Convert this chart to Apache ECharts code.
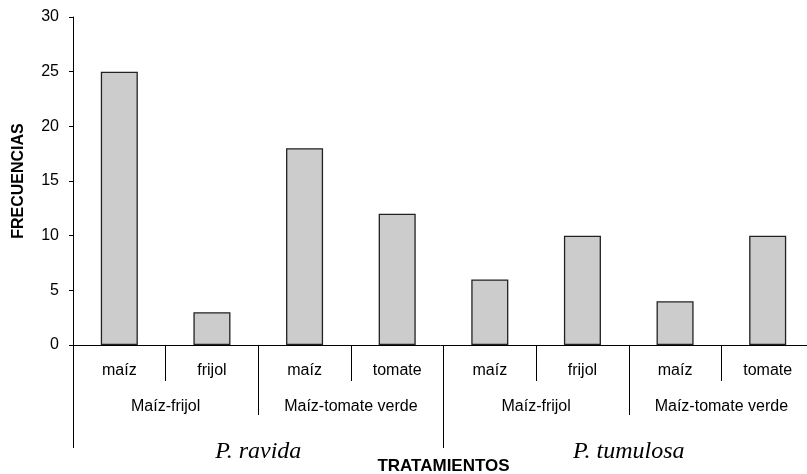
<!DOCTYPE html>
<html><head><meta charset="utf-8">
<script src="https://cdn.jsdelivr.net/npm/echarts@6/dist/echarts.min.js"></script>
<style>html,body{margin:0;padding:0;background:#fff}#c{width:807px;height:474px}</style>
</head><body><div id="c"></div>
<script>
const cultivos = ['maíz','frijol','maíz','tomate','maíz','frijol','maíz','tomate'];
const sistemas = ['Maíz-frijol','Maíz-tomate verde','Maíz-frijol','Maíz-tomate verde'];
const especies = ['P. ravida','P. tumulosa'];
const frecuencias = [25, 3, 18, 12, 6, 10, 4, 10];
const yTicks = {min:0, max:30, interval:5};

const chart = echarts.init(document.getElementById('c'), null, {renderer:'canvas'});
const font = 'Liberation Sans, Arial, sans-serif';
chart.setOption({
  animation:false,
  backgroundColor:'#fff',
  grid:{left:73, top:17, bottom:129, right:-7, containLabel:false, outerBoundsMode:'none'},
  xAxis:[
    {type:'category', data:cultivos, position:'bottom',
     axisLine:{show:true, lineStyle:{color:'#000', width:1}},
     axisTick:{show:true, length:36, interval:0, lineStyle:{color:'#000'}},
     axisLabel:{interval:0, margin:18, fontSize:16, color:'#000', fontFamily:font}},
    {type:'category', data:sistemas, position:'bottom',
     axisLine:{show:false},
     axisTick:{show:true, length:70, interval:0, lineStyle:{color:'#000'}},
     axisLabel:{interval:0, margin:54, fontSize:16, color:'#000', fontFamily:font}},
    {type:'category', data:especies, position:'bottom',
     axisLine:{show:false},
     axisTick:{show:true, length:103, interval:0, lineStyle:{color:'#000'}},
     axisLabel:{interval:0, margin:95, fontSize:24, fontStyle:'italic', color:'#000', fontFamily:'Liberation Serif, Times New Roman, serif'},
     name:'TRATAMIENTOS', nameLocation:'middle', nameGap:113, nameMoveOverlap:false,
     nameTextStyle:{fontSize:17, fontWeight:'bold', color:'#000', fontFamily:font}}
  ],
  yAxis:{type:'value', min:yTicks.min, max:yTicks.max, interval:yTicks.interval,
    splitLine:{show:false},
    axisLine:{show:true, lineStyle:{color:'#000'}},
    axisTick:{show:true, length:4, lineStyle:{color:'#000'}},
    axisLabel:{fontSize:16, color:'#000', margin:14, fontFamily:font},
    name:'FRECUENCIAS', nameLocation:'middle', nameRotate:90, nameGap:46, nameMoveOverlap:false,
    nameTextStyle:{fontSize:16, fontWeight:'bold', color:'#000', fontFamily:font}},
  series:[
    {type:'bar', xAxisIndex:0, data:frecuencias, barWidth:'40%',
     itemStyle:{color:'#cccccc', borderColor:'#222', borderWidth:1.3}},
    {type:'bar', xAxisIndex:1, data:[], silent:true},
    {type:'bar', xAxisIndex:2, data:[], silent:true}
  ]
});
</script></body></html>
